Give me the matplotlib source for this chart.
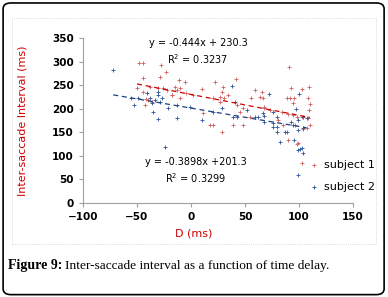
import matplotlib.pyplot as plt
import numpy as np
from matplotlib.patches import FancyBboxPatch, Rectangle

# subject 1 (red)
s1_x = [-48, -44, -28, -23, -44, -29, -50, -44, -38, -31, -26, -22, -18, -13, -42, -40, -36, -43,
        -11, -6, -15, -10, -18, -5, 2, -10, 10, 22, 42, 30, 29, 27, 31, 34, 27, 20, 43, 59, 66, 56, 64,
        48, 11, 18, 20, 29, 39, 48, 45, 55, 68,
        91, 93, 103, 109, 67, 89, 92, 95, 108, 94, 110, 109, 68, 73, 84, 90, 94, 98, 103, 108,
        81, 85, 96, 110, 104, 107, 90, 99, 103, 98]
s1_y = [297, 297, 293, 278, 265, 268, 244, 236, 247, 244, 244, 240, 229, 240, 221, 218, 214, 208,
        261, 257, 247, 244, 229, 233, 229, 223, 242, 257, 263, 246, 236, 225, 223, 229, 214, 223, 208, 240, 236, 223, 225,
        202, 191, 166, 166, 151, 166, 166, 193, 182, 202,
        289, 244, 242, 246, 223, 223, 223, 223, 223, 212, 210, 197, 204, 197, 193, 189, 187, 182, 182, 180,
        176, 165, 166, 166, 157, 159, 134, 127, 85, 125]

# subject 2 (blue)
s2_x = [-72, -53, -56, -49, -41, -38, -33, -31, -27, -31, -36, -29, -35, -31, -21, -13, -24,
        38, 10, 20, 39, 43, 29, 41, 52, 59, 62, 67, -13, -1,
        100, 72, 97, 68, 80, 76, 68, 76, 80, 93, 94, 99, 104, 107, 99, 104, 80, 89,
        76, 82, 87, 95, 99, 103, 99, 104, 101]
s2_y = [282, 208, 223, 223, 233, 223, 219, 229, 223, 236, 212, 214, 193, 178, 202, 180, 119,
        248, 176, 193, 182, 182, 202, 214, 197, 182, 182, 191, 208, 204,
        231, 231, 199, 184, 182, 193, 172, 170, 161, 172, 165, 176, 182, 180, 155, 159, 151, 151,
        161, 129, 151, 134, 112, 117, 59, 106, 115]

# trend line coefficients (slope, intercept)
fit1 = (-0.444, 230.3)
fit2 = (-0.3898, 201.3)

red = '#d06060'
blue = '#2a5599'

fig = plt.figure(figsize=(3.88, 2.97), dpi=100)
fig.patch.set_facecolor('white')

# outer rounded frame
fig.patches.append(FancyBboxPatch((0.008, 0.008), 0.982, 0.982, boxstyle='round,pad=0,rounding_size=0.02',
                                  transform=fig.transFigure, fill=False, ec='black', lw=1.2))
# inner dotted chart border
fig.patches.append(Rectangle((12/388, 1-244/297), (376-12)/388, (244-18)/297, transform=fig.transFigure,
                             fill=False, ec='#cccccc', lw=0.6, ls=':'))

ax = fig.add_axes([83/388, 1-203/297, 270/388, 165/297])
ax.scatter(s1_x, s1_y, marker='+', s=5, c=red, lw=0.6, label='subject 1')
ax.scatter(s2_x, s2_y, marker='+', s=5, c=blue, lw=0.6, label='subject 2')

xx1 = np.array([min(s1_x), max(s1_x)])
ax.plot(xx1, fit1[0]*xx1 + fit1[1], ls=(0, (4, 3)), c='#cc0000', lw=0.9)
xx2 = np.array([min(s2_x), max(s2_x)])
ax.plot(xx2, fit2[0]*xx2 + fit2[1], ls=(0, (4, 3)), c='#1f3f80', lw=0.9)

ax.set_xlim(-100, 150)
ax.set_ylim(0, 350)
ax.set_xticks(range(-100, 151, 50))
ax.set_yticks(range(0, 351, 50))
for s in ['top', 'right']:
    ax.spines[s].set_visible(False)
for s in ['left', 'bottom']:
    ax.spines[s].set_color('#a0a0a0')
    ax.spines[s].set_linewidth(0.8)
ax.tick_params(colors='#a0a0a0', labelcolor='black', labelsize=7.5, length=3, width=0.8, direction='out')
for lab in ax.get_xticklabels() + ax.get_yticklabels():
    lab.set_fontweight('bold')

fig.text(23/388, 1-121/297, 'Inter-saccade Interval (ms)', rotation=90, color='#cc0000',
         ha='center', va='center', fontsize=8)
fig.text(194/388, 1-233/297, 'D (ms)', color='#cc0000', ha='center', va='center', fontsize=8)

fig.text(198/388, 1-43/297, 'y = -0.444x + 230.3', ha='center', va='center', fontsize=7)
fig.text(198/388, 1-59/297, 'R$^2$ = 0.3237', ha='center', va='center', fontsize=7)
fig.text(196/388, 1-162/297, 'y = -0.3898x +201.3', ha='center', va='center', fontsize=7)
fig.text(196/388, 1-178/297, 'R$^2$ = 0.3299', ha='center', va='center', fontsize=7)

ax.legend(loc='upper left', bbox_to_anchor=(310/388, 1-160/297), bbox_transform=fig.transFigure,
          frameon=False, fontsize=8, handlelength=0.8, handletextpad=0.5, labelspacing=1.1,
          borderpad=0, borderaxespad=0, markerscale=1.2)

fig.text(8/388, 1-266/297, 'Figure 9:', fontweight='bold', family='Liberation Serif', fontsize=10, va='center')
fig.text(65/388, 1-266/297, 'Inter-saccade interval as a function of time delay.',
         family='Liberation Serif', fontsize=9.6, va='center')

fig.savefig('out.png', dpi=100)
